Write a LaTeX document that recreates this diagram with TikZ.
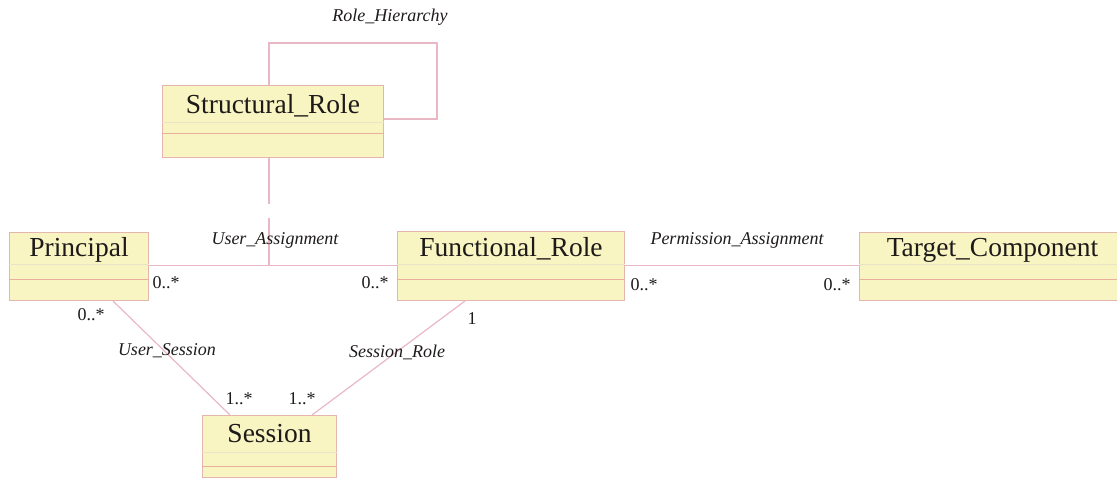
\documentclass[tikz,border=0pt]{standalone}
\usepackage{fontspec}
\setmainfont{Liberation Serif}
\usetikzlibrary{calc}
\definecolor{boxfill}{RGB}{248,245,194}
\definecolor{boxdraw}{RGB}{228,182,176}
\definecolor{sepcol}{RGB}{232,176,156}
\definecolor{faintcol}{RGB}{236,226,200}
\definecolor{conncol}{RGB}{232,184,196}
\definecolor{txtcol}{RGB}{30,26,26}
\newcommand\umlclass[8]{% name, x, y, w, h, faint offset, sep offset, title
  \node[classbox, minimum width=#4pt, minimum height=#5pt] (#1) at (#2,#3) {};
  \draw[faintline] ($(#1.north west)+(0,#6)$) -- ($(#1.north east)+(0,#6)$);
  \draw[sepline] ($(#1.north west)+(0,#7)$) -- ($(#1.north east)+(0,#7)$);
  \node[classname] (#1-t) at ($(#1.north)+(0,#6*0.75)$) {#8};
}
\begin{document}
\begin{tikzpicture}[x=1pt,y=-1pt,
  classbox/.style={draw=boxdraw, fill=boxfill, line width=1pt, rectangle, inner sep=0pt, anchor=north west},
  faintline/.style={draw=faintcol, line width=1pt},
  sepline/.style={draw=sepcol, line width=1pt},
  classname/.style={font=\fontsize{27.5}{30}\selectfont, text=txtcol, inner sep=0pt, anchor=base},
  conn/.style={draw=conncol, line width=1.2pt},
  assoc/.style={font=\itshape\fontsize{18}{20}\selectfont, text=txtcol, inner sep=0pt},
  mult/.style={font=\fontsize{18}{20}\selectfont, text=txtcol, inner sep=0pt}]
\useasboundingbox (0,0) rectangle (1117,486);
\clip (0,0) rectangle (1117,486);

\coordinate (uaj) at (269,265);
\coordinate (gapA) at (269,204);
\coordinate (gapB) at (269,218);

\umlclass{SR}{162}{85}{221}{72}{38}{49}{Structural\_Role}
\umlclass{P}{9}{232}{139}{68}{33}{48}{Principal}
\umlclass{FR}{397}{231}{227}{69}{34}{49}{Functional\_Role}
\umlclass{TC}{859}{232}{266}{68}{33}{48}{Target\_Component}
\umlclass{S}{202}{415}{134}{62}{37}{51}{Session}

% Role hierarchy loop
\draw[conn] ([xshift=107pt]SR.north west) |- ++(168,-42) |- ([yshift=-34pt]SR.north east);
% vertical from Structural_Role to User_Assignment
\draw[conn] ([xshift=107pt]SR.south west) -- (gapA);
\draw[conn] (gapB) -- (uaj);
% User_Assignment
\draw[conn] ([yshift=1pt]P.east) -- ([yshift=0.5pt]FR.west);
% Permission_Assignment
\draw[conn] ([yshift=0.5pt]FR.east) -- ([yshift=1pt]TC.west);
% User_Session
\draw[conn] ([xshift=104pt]P.south west) -- ([xshift=28pt]S.north west);
% Session_Role
\draw[conn] ([xshift=68pt]FR.south west) -- ([xshift=110pt]S.north west);

% labels
\node[assoc] (lRH) at (390,17) {Role\_Hierarchy};
\node[assoc] (lUA) at (275,240) {User\_Assignment};
\node[assoc] (lPA) at (737,240) {Permission\_Assignment};
\node[assoc] (lUS) at (167,351) {User\_Session};
\node[assoc] (lSR) at (397,352) {Session\_Role};

\node[mult] (m1) at (166,283) {0..*};
\node[mult] (m2) at (375,283) {0..*};
\node[mult] (m3) at (644,285) {0..*};
\node[mult] (m4) at (837,285) {0..*};
\node[mult] (m5) at (91,315) {0..*};
\node[mult] (m6) at (472,319) {1};
\node[mult] (m7) at (239,399) {1..*};
\node[mult] (m8) at (302,399) {1..*};
\end{tikzpicture}
\end{document}
